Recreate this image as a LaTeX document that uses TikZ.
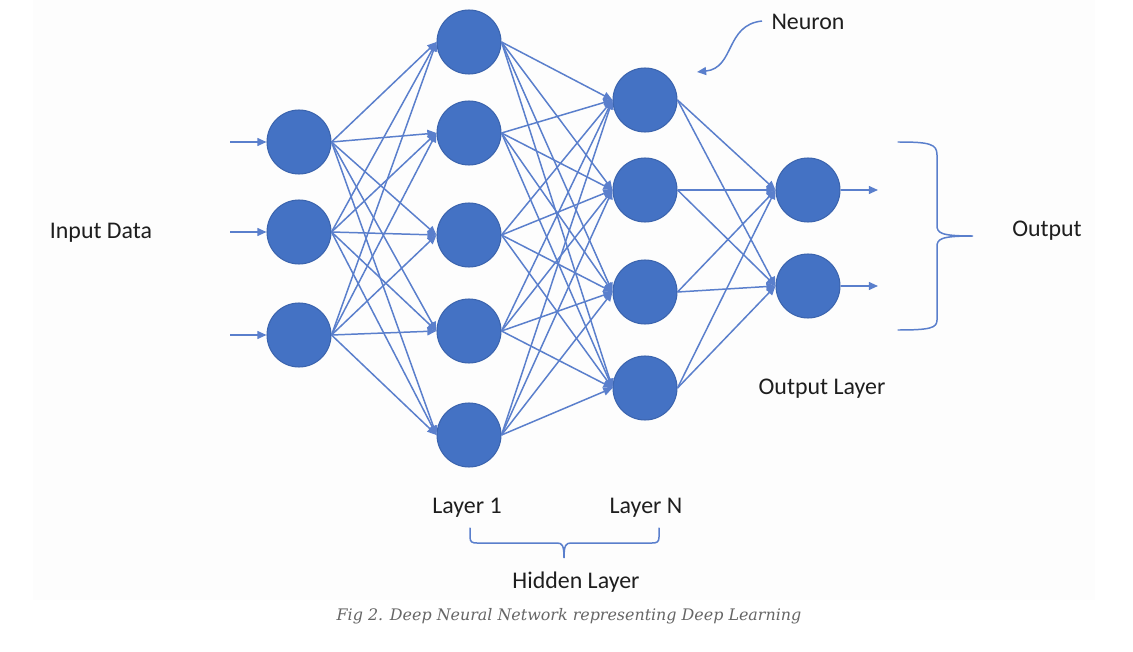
\documentclass[tikz,border=0pt]{standalone}
\usepackage{fontspec}
\setmainfont{Carlito}
\newfontfamily\capfont{DejaVu Serif}
\usetikzlibrary{arrows.meta}
\definecolor{nfill}{HTML}{4472C4}
\definecolor{nline}{HTML}{3B64AE}
\definecolor{eline}{HTML}{5A7FCC}
\definecolor{txt}{HTML}{1E1E1E}
\definecolor{capc}{HTML}{666666}
\definecolor{panel}{HTML}{FDFDFD}
\begin{document}
\begin{tikzpicture}[x=0.02cm,y=-0.02cm,
  neuron/.style={circle, fill=nfill, draw=nline, line width=0.6pt, minimum size=1.28cm, inner sep=0pt},
  arr/.style={draw=eline, line width=0.85pt, -{Triangle[length=5.2pt,width=4.5pt]}},
  lbl/.style={text=txt, font=\fontsize{13.6}{16}\selectfont, inner sep=0pt},
  brace/.style={draw=eline, line width=0.85pt, line cap=round}]
\useasboundingbox (0,0) rectangle (1133,652);
\fill[white] (0,0) rectangle (1133,652);
\fill[panel] (33,0) rectangle (1095,600);

% neurons
\node[neuron] (a1) at (299,142) {};
\node[neuron] (a2) at (299,232) {};
\node[neuron] (a3) at (299,335) {};
\node[neuron] (b1) at (469,42) {};
\node[neuron] (b2) at (469,133) {};
\node[neuron] (b3) at (469,235) {};
\node[neuron] (b4) at (469,331) {};
\node[neuron] (b5) at (469,435) {};
\node[neuron] (c1) at (645,100) {};
\node[neuron] (c2) at (645,190) {};
\node[neuron] (c3) at (645,292) {};
\node[neuron] (c4) at (645,388) {};
\node[neuron] (d1) at (808,190) {};
\node[neuron] (d2) at (808,286) {};

% labels
\node[lbl] (input) at (101,233) {Input Data};
\node[lbl] (neuronlbl) at (808,22) {Neuron};
\node[lbl] (output) at (1047,231) {Output};
\node[lbl] (outlayer) at (822,389) {Output Layer};
\node[lbl] (l1) at (467,508) {Layer 1};
\node[lbl] (ln) at (646,508) {Layer N};
\node[lbl] (hidden) at (576,582) {Hidden Layer};
\node[text=capc, inner sep=0pt, font=\capfont\itshape\fontsize{9.05}{12}\selectfont] (cap) at (569,616) {Fig 2. Deep Neural Network representing Deep Learning};

% input arrows
\foreach \i/\y in {1/142,2/232,3/335}{
  \coordinate (ia\i) at (230,\y);
  \draw[arr] (ia\i) -- (a\i.west);
}
% output arrows
\foreach \i/\y in {1/190,2/286}{
  \coordinate (oa\i) at (878,\y);
  \draw[arr] (d\i.east) -- (oa\i);
}

% connections
\foreach \s in {1,2,3}{\foreach \t in {1,...,5}{\draw[arr] (a\s.east) -- (b\t.west);}}
\foreach \s in {1,...,5}{\foreach \t in {1,...,4}{\draw[arr] (b\s.east) -- (c\t.west);}}
\foreach \s in {1,...,4}{\foreach \t in {1,2}{\draw[arr] (c\s.east) -- (d\t.west);}}

% neuron pointer
\coordinate (nt) at (762,21);
\coordinate (nh) at (697,72);
\draw[arr] (nt) .. controls (725,25) and (735,68) .. (nh);

% output brace
\draw[brace] (898,142) .. controls (930,142) and (937,144) .. (937,155) -- (937,225)
  .. controls (937,233) and (940,236) .. (973,236)
  .. controls (940,236) and (937,239) .. (937,247) -- (937,320)
  .. controls (937,328) and (930,330) .. (898,330);

% hidden layer brace
\draw[brace] (470,528) -- (470,537) .. controls (470,542) and (472,543) .. (477,543) -- (557,543)
  .. controls (562,543) and (564,545) .. (564,558)
  .. controls (564,545) and (566,543) .. (571,543) -- (652,543)
  .. controls (657,543) and (659,542) .. (659,537) -- (659,528);
\end{tikzpicture}
\end{document}
